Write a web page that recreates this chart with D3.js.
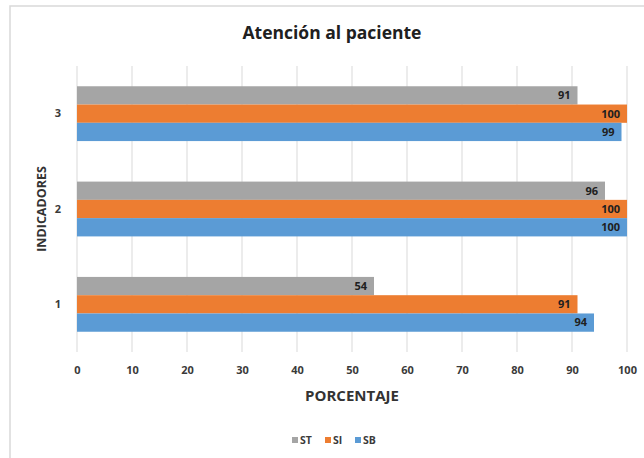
<!DOCTYPE html>
<html>
<head>
<meta charset="utf-8">
<script src="https://cdn.jsdelivr.net/npm/d3@7"></script>
<style>
  html, body { margin: 0; padding: 0; background: #fff; }
  svg { display: block; font-family: "Open Sans", "Noto Sans", sans-serif; }
</style>
</head>
<body>
<svg id="chart" width="644" height="458"></svg>
<script>
// Indicators, drawn bottom-to-top as 1, 2, 3
const categories = ["1", "2", "3"];
const seriesNames = ["ST", "SI", "SB"];
const seriesColors = ["#A5A5A5", "#ED7D31", "#5B9BD5"];
const valuesST = [54, 96, 91];
const valuesSI = [91, 100, 100];
const valuesSB = [94, 100, 99];
const xTicks = [0, 10, 20, 30, 40, 50, 60, 70, 80, 90, 100];

const series = [
  { name: seriesNames[0], color: seriesColors[0], values: valuesST },
  { name: seriesNames[1], color: seriesColors[1], values: valuesSI },
  { name: seriesNames[2], color: seriesColors[2], values: valuesSB }
];

const svg = d3.select("#chart");
const plot = { left: 77, right: 627, top: 66, bottom: 352 };

// Chart frame
svg.append("rect")
  .attr("x", 10).attr("y", 6).attr("width", 660).attr("height", 470)
  .attr("fill", "none").attr("stroke", "#d9d9d9").attr("stroke-width", 1.5);

const x = d3.scaleLinear().domain([0, 100]).range([plot.left, plot.right]);
const y = d3.scaleBand()
  .domain(categories.slice().reverse())
  .range([plot.top, plot.bottom])
  .paddingInner(0.425)
  .paddingOuter(0.2125);
const ySub = d3.scaleBand()
  .domain(seriesNames)
  .range([0, y.bandwidth()]);

// Vertical gridlines
svg.append("g")
  .selectAll("line")
  .data(xTicks)
  .join("line")
  .attr("x1", d => x(d)).attr("x2", d => x(d))
  .attr("y1", plot.top).attr("y2", plot.bottom)
  .attr("stroke", "#d9d9d9").attr("stroke-width", 1);

// Value axis labels
const xAxis = svg.append("g")
  .attr("transform", `translate(0,${plot.bottom})`)
  .call(d3.axisBottom(x).tickValues(xTicks).tickSize(0).tickPadding(14));
xAxis.select(".domain").remove();
xAxis.selectAll("text")
  .attr("font-family", "Open Sans, sans-serif")
  .attr("font-size", 11).attr("font-weight", 700).attr("fill", "#3a3a3a");

// Category axis labels
const yAxis = svg.append("g")
  .attr("transform", `translate(${plot.left},0)`)
  .call(d3.axisLeft(y).tickSize(0).tickPadding(16));
yAxis.select(".domain").remove();
yAxis.selectAll("text")
  .attr("font-family", "Open Sans, sans-serif")
  .attr("font-size", 11).attr("font-weight", 700).attr("fill", "#3a3a3a");

// Bars
const groups = svg.append("g")
  .selectAll("g")
  .data(series)
  .join("g")
  .attr("fill", d => d.color);

groups.selectAll("rect")
  .data(s => s.values.map((v, i) => ({ s: s.name, cat: categories[i], v })))
  .join("rect")
  .attr("x", x(0))
  .attr("y", d => y(d.cat) + ySub(d.s))
  .attr("width", d => x(d.v) - x(0))
  .attr("height", ySub.bandwidth());

// Data labels at the inside end of each bar
svg.append("g")
  .selectAll("text")
  .data(series.flatMap(s => s.values.map((v, i) => ({ s: s.name, cat: categories[i], v }))))
  .join("text")
  .attr("x", d => x(d.v) - 7)
  .attr("y", d => y(d.cat) + ySub(d.s) + ySub.bandwidth() / 2)
  .attr("dy", "0.35em")
  .attr("text-anchor", "end")
  .attr("font-size", 11).attr("font-weight", 700).attr("fill", "#202020")
  .text(d => d.v);

// Title
svg.append("text")
  .attr("x", 332).attr("y", 33).attr("dy", "0.35em")
  .attr("text-anchor", "middle")
  .attr("font-size", 17.5).attr("font-weight", 700).attr("fill", "#202020")
  .text("Atención al paciente");

// Axis titles
svg.append("text")
  .attr("x", (plot.left + plot.right) / 2).attr("y", 396).attr("dy", "0.35em")
  .attr("text-anchor", "middle")
  .attr("font-size", 15).attr("font-weight", 700).attr("fill", "#333")
  .text("PORCENTAJE");

svg.append("text")
  .attr("transform", `translate(42,${(plot.top + plot.bottom) / 2}) rotate(-90)`)
  .attr("dy", "0.35em")
  .attr("text-anchor", "middle")
  .attr("font-size", 12.5).attr("font-weight", 700).attr("fill", "#333")
  .text("INDICADORES");

// Legend
const legendX = [292, 325, 355];
const legend = svg.append("g")
  .selectAll("g")
  .data(series)
  .join("g")
  .attr("transform", (d, i) => `translate(${legendX[i]},440)`);
legend.append("rect")
  .attr("x", 0).attr("y", -3).attr("width", 6).attr("height", 6)
  .attr("fill", d => d.color);
legend.append("text")
  .attr("x", 8).attr("dy", "0.35em")
  .attr("font-size", 10.5).attr("font-weight", 700).attr("fill", "#3a3a3a")
  .text(d => d.name);
</script>
</body>
</html>
